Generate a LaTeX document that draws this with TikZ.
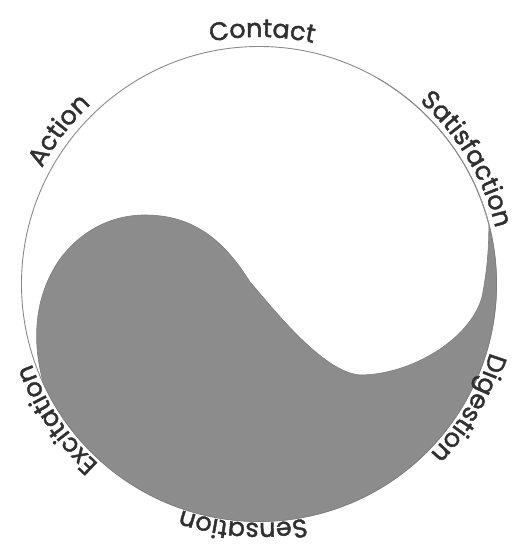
\documentclass[tikz,border=0pt]{standalone}
\usepackage{fontspec}
\setmainfont{Poppins}
\newfontfamily\lblfam{Poppins}[FakeBold=1.6]
\usetikzlibrary{decorations.text}
\definecolor{fillgray}{HTML}{8C8C8C}
\definecolor{edgegray}{HTML}{7E7E7E}
\definecolor{linegray}{HTML}{8A8A8A}
\definecolor{txt}{HTML}{303030}
\newcommand\lblfont{\lblfam\fontsize{25.5}{30}\selectfont}
\tikzset{
  ring/.style={draw=linegray, line width=0.9pt},
  lobe/.style={fill=fillgray, draw=edgegray, line width=0.6pt},
  arclabel/.style={decorate, decoration={text along path, text align=center,
      text color=txt, text={|\lblfont|#1}}},
}
\newcommand\ringlabel[3]{%
  \path[arclabel={#3}] (O) ++(#1+40:#2) arc[start angle=#1+40, end angle=#1-40, radius=#2];}
\begin{document}
\begin{tikzpicture}[x=1pt,y=1pt]
\useasboundingbox (0,0) rectangle (512,547);
\coordinate (O) at (259,263);
\draw[ring] (O) circle[radius=237.5];
\path (O) ++(14.6:237.5) coordinate (tip);
\filldraw[lobe] (tip) arc[start angle=14.6, end angle=-155, radius=237.5]
  .. controls (34,196) and (30,245) .. (60,288)
  .. controls (80,315) and (110,332) .. (145,332)
  .. controls (195,332) and (225,305) .. (250,265)
  .. controls (272,240) and (322,175) .. (360,172)
  .. controls (410,172) and (470,207) .. (482,250)
  .. controls (487,275) and (489,300) .. (tip) -- cycle;
\draw[ring] (O) ++(14.6:237.5) arc[start angle=14.6, end angle=60, radius=237.5];
\ringlabel{89.3}{247}{Contact}
\ringlabel{31}{243}{Satisfaction}
\ringlabel{-30.6}{241}{Digestion}
\ringlabel{-93.8}{239}{Sensation}
\ringlabel{-146.2}{241}{Excitation}
\ringlabel{142.5}{246}{Action}
\end{tikzpicture}
\end{document}
